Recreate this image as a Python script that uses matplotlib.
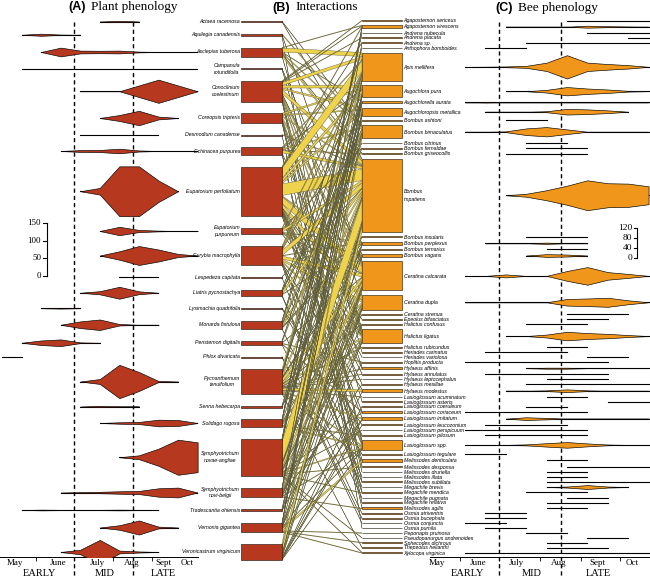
import numpy as np
import matplotlib.pyplot as plt

n = np.nan

# sampling rounds, days after 1 May
sample_days = [4, 19.5, 35, 50.5, 66, 81.5, 97, 112.5, 128, 143.5, 159, 174.5]

plant_codes = ["Act", "Aqu", "Asc", "Cam", "Con", "Cor", "Des", "Ech", "EpF", "EpP",
               "Eur", "Les", "Lia", "Lys", "Mon", "Pen", "Phl", "Pyc", "Sen", "Sol",
               "SNA", "SNB", "Tra", "Ver", "Vrc"]
plant_names = ["Actaea racemosa", "Aquilegia canadensis", "Asclepias tuberosa",
               "Campanula\nrotundifolia", "Conoclinium\ncoelestinum", "Coreopsis tripteris",
               "Desmodium canadense", "Echinacea purpurea", "Eupatorium perfoliatum",
               "Eupatorium\npurpureum", "Eurybia macrophylla", "Lespedeza capitata",
               "Liatris pycnostachya", "Lysimachia quadrifolia", "Monarda fistulosa",
               "Penstemon digitalis", "Phlox divaricata", "Pycnanthemum\ntenuifolium",
               "Senna hebecarpa", "Solidago rugosa", "Symphyotrichum\nnovae-angliae",
               "Symphyotrichum\nnovi-belgii", "Tradescantia ohiensis", "Vernonia gigantea",
               "Veronicastrum virginicum"]

# flower abundance per sampling round (nan = not flowering)
plant_width = [
    [n, n, n, n, n, 0, 4, 0, n, n, n],
    [n, 0, 6, 1, 0, n, n, n, n, n, n],
    [n, n, 0, 25, 8, 7, 8, 2, 0, 0, 0],
    [n, 0, 0, 0, 0, 0, 0, 0, 0, 0, 0],
    [n, n, n, n, 0, 0, 0, 33, 66, 33, 0],
    [n, n, n, n, n, 0, 17, 41, 8, 0, n],
    [n, n, n, n, 0, 0, 0, 0, 0, n, n],
    [n, n, n, 0, 5, 6, 13, 3, 0, 0, 0],
    [n, n, n, n, 0, 19, 142, 142, 61, 0, n],
    [n, n, n, n, n, 0, 24, 6, 2, 0, 0],
    [n, n, n, n, n, 0, 24, 54, 34, 9, 0],
    [n, n, n, n, n, n, 0, 0, 0, n, n],
    [n, n, n, n, 0, 9, 34, 8, 0, n, n],
    [n, n, 0, 2, 0, n, n, n, n, n, n],
    [n, n, n, 0, 19, 30, 4, 0, 0, n, n],
    [n, 0, 13, 19, 2, 0, n, n, n, n, n],
    [0, 0, n, n, n, n, n, n, n, n, n],
    [n, n, n, n, 0, 14, 95, 54, 3, 0, n],
    [n, n, n, n, 0, 4, 1, 0, n, n, n],
    [n, n, n, n, n, 0, 4, 6, 19, 17, 0],
    [n, n, n, n, n, n, 0, 11, 49, 100, 85],
    [n, n, n, 0, 2, 4, 7, 9, 24, 28, 0],
    [n, 0, 2, 1, 1, 1, 2, 1, 0, n, n],
    [n, n, n, n, n, 0, 13, 40, 5, 0, n],
    [n, n, n, 0, 13, 69, 8, 3, 0, n, n],
]

bee_codes = ["AgS", "AgV", "AnN", "AnP", "AnS", "Ant", "Api", "Aug", "Agl", "Agp",
             "BAs", "BBi", "BCi", "BFe", "BGr", "BIm", "BIn", "BPe", "BTe", "BVa",
             "CCa", "CDu", "CSt", "Epe", "HCo", "HLi", "HRu", "HeC", "HeV", "Hop",
             "HyAf", "HyAn", "HyL", "HyMe", "HyMo", "LAc", "LAs", "LCoe", "LCor", "LIm",
             "LLe", "LPe", "LPi", "LSp", "LTe", "MeDe", "MeDs", "MeDr", "MeI", "MeS",
             "MgB", "MgM", "MgP", "MgR", "MeA", "OAt", "OBu", "OCo", "OPu", "Pep",
             "Pse", "Sph", "Tri", "Xyl"]
bee_names = ["Agapostemon sericeus", "Agapostemon virescens", "Andrena nubecula",
             "Andrena placata", "Andrena sp.", "Anthophora bomboides", "Apis mellifera",
             "Augochlora pura", "Augochlorella aurata", "Augochloropsis metallica",
             "Bombus ashtoni", "Bombus bimaculatus", "Bombus citrinus", "Bombus fernaldae",
             "Bombus griseocollis", "Bombus\nimpatiens", "Bombus insularis",
             "Bombus perplexus", "Bombus ternarius", "Bombus vagans", "Ceratina calcarata",
             "Ceratina dupla", "Ceratina strenua", "Epeolus bifasciatus", "Halictus confusus",
             "Halictus ligatus", "Halictus rubicundus", "Heriades carinatus",
             "Heriades variolosa", "Hoplitis producta", "Hylaeus affinis", "Hylaeus annulatus",
             "Hylaeus leptocephalus", "Hylaeus mesillae", "Hylaeus modestus",
             "Lasioglossum acuminatum", "Lasioglossum asteris", "Lasioglossum coeruleum",
             "Lasioglossum coriaceum", "Lasioglossum imitatum", "Lasioglossum leucozonium",
             "Lasioglossum perspicuum", "Lasioglossum pilosum", "Lasioglossum spp.",
             "Lasioglossum tegulare", "Melissodes denticulata", "Melissodes desponsa",
             "Melissodes druriella", "Melissodes illata", "Melissodes subillata",
             "Megachile brevis", "Megachile mendica", "Megachile pugnata", "Megachile relativa",
             "Melissodes agilis", "Osmia atriventris", "Osmia bucephala", "Osmia conjuncta",
             "Osmia pumila", "Peponapis pruinosa", "Pseudopanurgus andrenoides",
             "Sphecodes dichrous", "Triepeolus helianthi", "Xylocopa virginica"]

# first and last sampling round with the bee present
bee_span = [(7, 11), (4, 11), (8, 11), (10, 11), (5, 11), (3, 5), (2, 11), (4, 11), (2, 11), (3, 10),
            (4, 6), (2, 11), (5, 7), (5, 8), (4, 8), (4, 11), (5, 8), (3, 8), (6, 8), (5, 8),
            (2, 11), (2, 11), (7, 10), (7, 9), (5, 8), (4, 11), (6, 8), (3, 7), (8, 10), (2, 9),
            (5, 11), (3, 9), (6, 9), (5, 11), (4, 11), (6, 8), (9, 11), (5, 7), (2, 8), (4, 11),
            (3, 7), (2, 8), (3, 8), (2, 11), (2, 4), (6, 8), (7, 11), (6, 8), (6, 8), (6, 11),
            (6, 10), (5, 8), (7, 9), (6, 9), (6, 8), (3, 5), (3, 5), (2, 4), (3, 5), (5, 7),
            (8, 10), (6, 8), (6, 9), (2, 11)]

# bee abundance, rounds 2..11, for the species drawn with a violin
bee_shape = {
    "AgV": [n, n, 0, 0, 0, 0, 8, 4, 2, 0],
    "Api": [0, 1, 3, 8, 34, 95, 34, 23, 14, 0],
    "Aug": [n, n, 0, 0, 11, 34, 22, 14, 3, 0],
    "Agl": [0, 2, 0, 0, 0, 0, 0, 0, 0, 0],
    "Agp": [n, 0, 0, 0, 4, 23, 19, 11, 0, n],
    "BBi": [0, 0, 3, 27, 38, 19, 0, 0, 0, 0],
    "BIm": [n, n, 0, 12, 41, 78, 122, 98, 95, 73],
    "BPe": [n, 0, 0, 0, 5, 0, 0, n, n, n],
    "BVa": [n, n, n, 0, 11, 8, 0, n, n, n],
    "CCa": [0, 0, 12, 0, 0, 40, 72, 31, 16, 0],
    "CDu": [0, 0, 0, 0, 0, 27, 31, 37, 16, 0],
    "HLi": [n, n, 0, 0, 12, 35, 24, 18, 8, 0],
    "HyAf": [n, n, n, 0, 4, 4, 0, 0, 0, 0],
    "HyMo": [n, n, 0, 0, 3, 11, 3, 0, 0, 0],
    "LIm": [n, n, 0, 11, 6, 0, 0, 0, 0, 0],
    "LSp": [0, 0, 0, 4, 14, 23, 12, 3, 0, 0],
    "MgB": [n, n, n, n, 0, 4, 16, 4, 0, n],
}

# plant - bee interactions (number of visits)
links = [
    ("Act", "BIm", 1), ("Act", "BBi", 1),
    ("Aqu", "BBi", 2), ("Aqu", "CCa", 1), ("Aqu", "OPu", 1),
    ("Asc", "Api", 8), ("Asc", "BIm", 4), ("Asc", "BGr", 1), ("Asc", "Agl", 1),
    ("Asc", "BBi", 2), ("Asc", "HLi", 1), ("Asc", "AgV", 1),
    ("Cam", "CCa", 1), ("Cam", "HeC", 1),
    ("Con", "BIm", 8), ("Con", "Api", 6), ("Con", "Aug", 5), ("Con", "HLi", 4),
    ("Con", "CCa", 4), ("Con", "Agp", 3), ("Con", "LSp", 2), ("Con", "CDu", 3),
    ("Con", "AgV", 1), ("Con", "AnP", 1), ("Con", "AgS", 1), ("Con", "MeDs", 1),
    ("Con", "BVa", 1), ("Con", "LAs", 1),
    ("Cor", "Aug", 3), ("Cor", "CCa", 4), ("Cor", "HLi", 3), ("Cor", "BIm", 2),
    ("Cor", "Agp", 2), ("Cor", "LSp", 2), ("Cor", "MeS", 1), ("Cor", "MeDr", 1),
    ("Cor", "HyAf", 1),
    ("Des", "BIm", 1), ("Des", "MgR", 1),
    ("Ech", "BIm", 5), ("Ech", "BBi", 2), ("Ech", "Api", 2), ("Ech", "HLi", 1),
    ("Ech", "MgM", 1), ("Ech", "MeA", 2), ("Ech", "BGr", 1), ("Ech", "Aug", 1),
    ("EpF", "Api", 22), ("EpF", "BIm", 23), ("EpF", "Aug", 6), ("EpF", "CCa", 14),
    ("EpF", "CDu", 8), ("EpF", "Agp", 4), ("EpF", "HLi", 3), ("EpF", "LSp", 4),
    ("EpF", "HyAf", 2), ("EpF", "HyMe", 1), ("EpF", "HyAn", 1), ("EpF", "LCor", 1),
    ("EpF", "LIm", 2), ("EpF", "AgV", 2), ("EpF", "BVa", 2), ("EpF", "MeDe", 1),
    ("EpF", "Epe", 1), ("EpF", "HeV", 1), ("EpF", "AnS", 1),
    ("EpP", "BIm", 5), ("EpP", "Api", 3), ("EpP", "BVa", 1), ("EpP", "BPe", 1),
    ("EpP", "CCa", 1), ("EpP", "HLi", 1), ("EpP", "BFe", 1),
    ("Eur", "BIm", 10), ("Eur", "Aug", 4), ("Eur", "CCa", 6), ("Eur", "CDu", 4),
    ("Eur", "HLi", 3), ("Eur", "Agp", 2), ("Eur", "LSp", 2), ("Eur", "Api", 3),
    ("Eur", "BPe", 1), ("Eur", "HyMo", 1), ("Eur", "LPi", 1), ("Eur", "MgM", 1),
    ("Les", "BIm", 1), ("Les", "MeS", 1),
    ("Lia", "BIm", 6), ("Lia", "BBi", 2), ("Lia", "Api", 1), ("Lia", "BPe", 1),
    ("Lia", "MeI", 1), ("Lia", "MgB", 1), ("Lia", "BCi", 1),
    ("Lys", "LTe", 1), ("Lys", "LLe", 1),
    ("Mon", "BBi", 5), ("Mon", "BIm", 5), ("Mon", "Api", 2), ("Mon", "BPe", 1),
    ("Mon", "BIn", 1), ("Mon", "BFe", 1), ("Mon", "Ant", 1), ("Mon", "MgP", 1),
    ("Pen", "BBi", 3), ("Pen", "Agl", 1), ("Pen", "OAt", 1), ("Pen", "Hop", 1),
    ("Pen", "CCa", 1), ("Pen", "LCor", 1),
    ("Phl", "OBu", 1), ("Phl", "OCo", 1),
    ("Pyc", "Api", 7), ("Pyc", "BIm", 6), ("Pyc", "CCa", 7), ("Pyc", "CDu", 4),
    ("Pyc", "HLi", 3), ("Pyc", "HyMo", 4), ("Pyc", "HyAf", 1), ("Pyc", "Agp", 2),
    ("Pyc", "LSp", 2), ("Pyc", "Aug", 1), ("Pyc", "BVa", 1), ("Pyc", "LIm", 2),
    ("Pyc", "BAs", 1), ("Pyc", "MeDe", 1), ("Pyc", "HyL", 1), ("Pyc", "HCo", 1),
    ("Pyc", "HRu", 1), ("Pyc", "LAc", 1), ("Pyc", "HyAn", 1), ("Pyc", "Tri", 1),
    ("Pyc", "BTe", 1),
    ("Sen", "BIm", 2), ("Sen", "BBi", 1), ("Sen", "BIn", 1),
    ("Sol", "BIm", 3), ("Sol", "CCa", 2), ("Sol", "CDu", 2), ("Sol", "HLi", 2),
    ("Sol", "Aug", 1), ("Sol", "LSp", 2), ("Sol", "AnN", 1), ("Sol", "AgV", 1),
    ("Sol", "LPi", 1),
    ("SNA", "BIm", 43), ("SNA", "Api", 2), ("SNA", "CCa", 8), ("SNA", "CDu", 4),
    ("SNA", "HLi", 3), ("SNA", "Aug", 1), ("SNA", "LSp", 2), ("SNA", "MeDs", 1),
    ("SNA", "AgV", 1), ("SNA", "BVa", 1), ("SNA", "Agl", 1), ("SNA", "Agp", 1),
    ("SNA", "MgM", 1), ("SNA", "LCor", 1), ("SNA", "Pse", 1), ("SNA", "BPe", 1),
    ("SNA", "CSt", 1), ("SNA", "LPe", 1), ("SNA", "Xyl", 1),
    ("SNB", "BIm", 5), ("SNB", "CCa", 3), ("SNB", "CDu", 2), ("SNB", "HLi", 2),
    ("SNB", "LSp", 1), ("SNB", "AnS", 1), ("SNB", "MeA", 1), ("SNB", "Agp", 1),
    ("SNB", "HyMe", 1), ("SNB", "Agl", 1), ("SNB", "HCo", 1),
    ("Tra", "CCa", 1), ("Tra", "Hop", 1), ("Tra", "BIm", 1), ("Tra", "BBi", 1),
    ("Ver", "MeDe", 4), ("Ver", "BIm", 3), ("Ver", "CCa", 2), ("Ver", "Api", 1),
    ("Ver", "HLi", 1), ("Ver", "LIm", 1), ("Ver", "CDu", 1), ("Ver", "Agp", 1),
    ("Ver", "Aug", 1), ("Ver", "LSp", 1), ("Ver", "Xyl", 1), ("Ver", "Sph", 1),
    ("Ver", "Pep", 1),
    ("Vrc", "BIm", 13), ("Vrc", "BBi", 8), ("Vrc", "CCa", 3), ("Vrc", "CDu", 2),
    ("Vrc", "LSp", 1), ("Vrc", "HyMo", 1), ("Vrc", "LCoe", 1), ("Vrc", "LLe", 1),
    ("Vrc", "LIm", 1), ("Vrc", "BPe", 1),
]

month_names = ["May", "June", "July", "Aug", "Sept", "Oct"]
month_edges_a = [31, 61, 92, 123]
month_mid_a = [14.3, 48.3, 79.9, 106.8, 132.1, 150.3]
month_edges_c = [31, 61, 92, 123, 153]
month_mid_c = [13.8, 44.9, 73.8, 106.5, 135.3, 161.9]
season_names = ["EARLY", "MID", "LATE"]
season_mid_a = [33.3, 85.5, 132.1]
season_mid_c = [36.6, 85.9, 136.1]
season_breaks = [61, 108]
plant_scale_ticks = [0, 50, 100, 150]
bee_scale_ticks = [0, 40, 80, 120]

PLANT_RED = "#B5381F"
BEE_ORANGE = "#F0961B"
LINK_YELLOW = "#EFD34C"
LINK_EDGE = "#56563C"
SERIF = "Liberation Serif"
SANS = "Liberation Sans"

W, H = 650, 578
PX_PER_VISIT = 0.5
PLANT_PX = 0.351   # px per flower unit
BEE_PX = 0.245     # px per bee unit

# ---- layout of the bars (px from top) ----
pidx = {c: i for i, c in enumerate(plant_codes)}
bidx = {c: i for i, c in enumerate(bee_codes)}
plant_tot = np.zeros(len(plant_codes))
bee_tot = np.zeros(len(bee_codes))
for p, b, v in links:
    plant_tot[pidx[p]] += v
    bee_tot[bidx[b]] += v


def stack(tot, top, gap):
    h = tot * PX_PER_VISIT
    tops = top + np.concatenate([[0], np.cumsum(h[:-1] + gap)])
    return tops, h


plant_top, plant_h = stack(plant_tot, 21.0, 11.75)
bee_top, bee_h = stack(bee_tot, 20.3, 4.38)
plant_y = plant_top + plant_h / 2
bee_y = bee_top + bee_h / 2

fig = plt.figure(figsize=(W / 100, H / 100), dpi=100)


def pheno_axes(x0, width, xlim):
    ax = fig.add_axes([x0 / W, (H - 557) / H, width / W, 557 / H])
    ax.set_xlim(*xlim)
    ax.set_ylim(557, 0)
    ax.patch.set_alpha(0)
    for s in ["top", "left", "right"]:
        ax.spines[s].set_visible(False)
    ax.spines["bottom"].set_linewidth(0.7)
    ax.set_yticks([])
    return ax


def finish_axis(ax, edges, mids, seasons):
    ax.set_xticks(edges)
    ax.set_xticklabels([])
    ax.set_xticks(mids, month_names, minor=True)
    ax.tick_params(axis="x", which="major", length=3, width=0.6)
    ax.tick_params(axis="x", which="minor", length=0, pad=1.5, labelsize=6.5)
    for lab in ax.get_xticklabels(minor=True):
        lab.set_family(SERIF)
    for d, s in zip(seasons, season_names):
        ax.text(d, 573, s, ha="center", va="center", family=SERIF, fontsize=7.5,
                clip_on=False)
    for d in season_breaks:
        ax.plot([d, d], [22, 578], color="black", lw=1.0, dashes=(3, 2.2),
                clip_on=False, zorder=1)


def violin(ax, days, widths, yc, scale, color):
    w = np.array(widths, dtype=float)
    d = np.array(days, dtype=float)
    ok = ~np.isnan(w)
    d, w = d[ok], w[ok]
    ax.plot([d[0], d[-1]], [yc, yc], color="black", lw=0.8, zorder=2)
    if w.max() > 0:
        half = w * scale / 2
        ax.fill_between(d, yc - half, yc + half, facecolor=color, edgecolor="black",
                        lw=0.45, zorder=3)


# ---- (A) plant phenology ----
axA = pheno_axes(0, 198, (2.42, 159.3))
for i, widths in enumerate(plant_width):
    violin(axA, sample_days[:11], widths, plant_y[i], PLANT_PX, PLANT_RED)
finish_axis(axA, month_edges_a, month_mid_a, season_mid_a)

# ---- (C) bee phenology ----
axC = pheno_axes(430, 220, (8.4, 175.6))
for i, code in enumerate(bee_codes):
    s0, s1 = bee_span[i]
    if code in bee_shape:
        violin(axC, sample_days[2:], bee_shape[code], bee_y[i], BEE_PX, BEE_ORANGE)
    else:
        axC.plot([sample_days[s0], sample_days[s1]], [bee_y[i], bee_y[i]],
                 color="black", lw=0.8, zorder=2)
finish_axis(axC, month_edges_c, month_mid_c, season_mid_c)

# ---- (B) interactions, drawn in pixel units over the whole figure ----
axB = fig.add_axes([0, 0, 1, 1])
axB.set_xlim(0, W)
axB.set_ylim(H, 0)
axB.axis("off")
axB.patch.set_alpha(0)

PX0, PX1 = 241, 282   # plant bar
BX0, BX1 = 362, 402   # bee bar

# position of each link inside the plant bar and inside the bee bar
order_p = sorted(range(len(links)), key=lambda k: (pidx[links[k][0]], bidx[links[k][1]]))
order_b = sorted(range(len(links)), key=lambda k: (bidx[links[k][1]], pidx[links[k][0]]))
y_plant = {}
cursor = dict(zip(plant_codes, plant_top))
for k in order_p:
    p, b, v = links[k]
    y_plant[k] = cursor[p]
    cursor[p] += v * PX_PER_VISIT
y_bee = {}
cursor = dict(zip(bee_codes, bee_top))
for k in order_b:
    p, b, v = links[k]
    y_bee[k] = cursor[b]
    cursor[b] += v * PX_PER_VISIT

for k, (p, b, v) in enumerate(links):
    h = v * PX_PER_VISIT
    y0, y1 = y_plant[k], y_bee[k]
    axB.fill([PX1, BX0, BX0, PX1], [y0, y1, y1 + h, y0 + h], facecolor=LINK_YELLOW,
             edgecolor=LINK_EDGE, lw=0.28, zorder=2)

axB.bar(np.full(len(plant_codes), PX0), plant_h, width=PX1 - PX0, bottom=plant_top,
        align="edge", color=PLANT_RED, edgecolor="#2a1a14", lw=0.45, zorder=3)
axB.bar(np.full(len(bee_codes), BX0), bee_h, width=BX1 - BX0, bottom=bee_top,
        align="edge", color=BEE_ORANGE, edgecolor="#2a2214", lw=0.45, zorder=3)

for i, name in enumerate(plant_names):
    axB.text(PX0 - 1, plant_y[i], name, ha="right", va="center", fontsize=3.8,
             family=SANS, style="italic", linespacing=1.45, multialignment="center",
             zorder=4)
for i, name in enumerate(bee_names):
    axB.text(BX1 + 1.5, bee_y[i] + 0.3, name, ha="left", va="center", fontsize=3.8,
             family=SANS, style="italic", linespacing=1.6, zorder=4)

# panel titles
for x, tag, title, y in [(68, "(A)", "Plant phenology", 7),
                         (272, "(B)", "Interactions", 7.5),
                         (495, "(C)", "Bee phenology", 8.3)]:
    t = axB.text(x, y, tag, ha="left", va="center", fontsize=9, fontweight="bold",
                 family=SANS)
    axB.annotate(title, xy=(1, 0.5), xycoords=t, xytext=(4, 0),
                 textcoords="offset points", ha="left", va="center",
                 fontsize=9.5, family=SERIF)

# scale bars
y0 = 276
axB.plot([47, 47], [y0, y0 - max(plant_scale_ticks) * PLANT_PX], color="black", lw=0.8)
for v in plant_scale_ticks:
    yy = y0 - v * PLANT_PX
    axB.plot([43, 47], [yy, yy], color="black", lw=0.8)
    axB.text(41, yy, str(v), ha="right", va="center", fontsize=6.5, family=SERIF)
y0 = 257.7
axB.plot([636.7, 636.7], [y0, y0 - max(bee_scale_ticks) * BEE_PX], color="black", lw=0.8)
for v in bee_scale_ticks:
    yy = y0 - v * BEE_PX
    axB.plot([633.5, 636.7], [yy, yy], color="black", lw=0.8)
    axB.text(632.5, yy, str(v), ha="right", va="center", fontsize=6.8, family=SERIF)

fig.savefig("out.png", dpi=100)
